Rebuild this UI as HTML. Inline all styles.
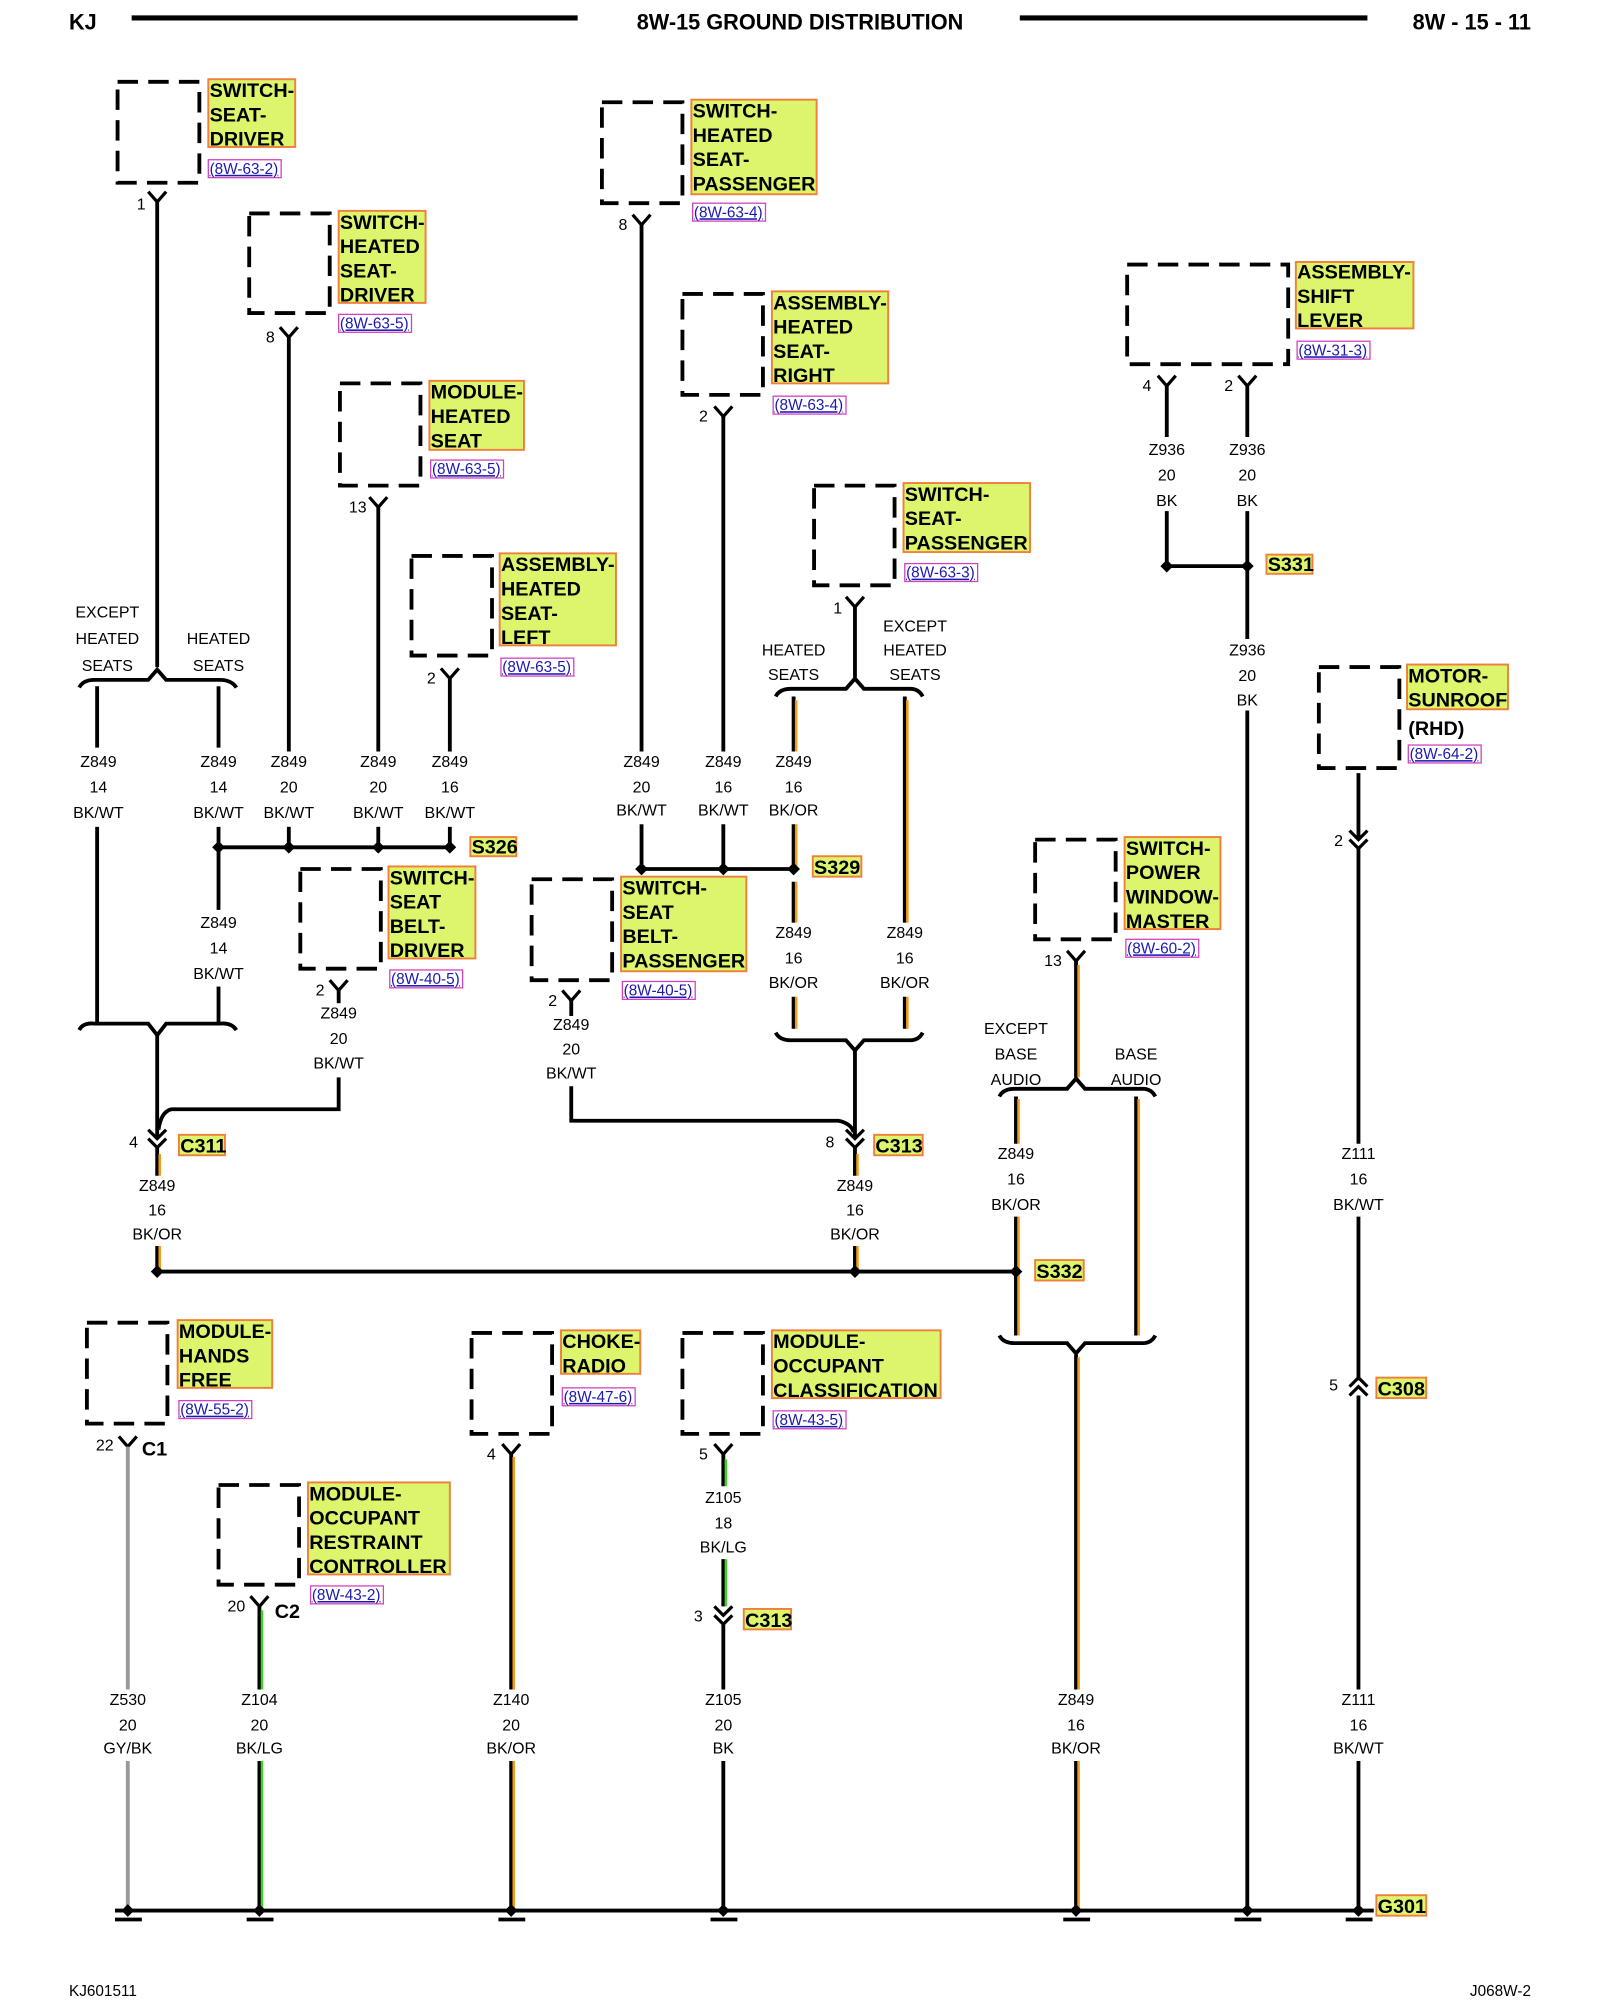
<!DOCTYPE html>
<html><head><meta charset="utf-8"><style>
html,body{margin:0;padding:0;background:#fff}
svg{display:block}
.w{stroke:#000;stroke-width:3;fill:none}
.o{stroke:#f39a1e;stroke-width:2;fill:none}
.g{stroke:#3fd02a;stroke-width:2;fill:none}
.gy{stroke:#999;stroke-width:3;fill:none}
.bx{stroke:#000;stroke-width:3;fill:none;stroke-dasharray:16 8}
.lb{fill:#dcf56c;stroke:#ef7f3a;stroke-width:1.5}
.lt{font:bold 15.5px "Liberation Sans",sans-serif;fill:#000}
.rf{font:12px "Liberation Sans",sans-serif;fill:#1a1ab0;text-decoration:underline}
.rb{fill:none;stroke:#d040c0;stroke-width:1}
.t{font:12.5px "Liberation Sans",sans-serif;fill:#000;text-anchor:middle}
.p{font:12.5px "Liberation Sans",sans-serif;fill:#000}
.hd{font:bold 17px "Liberation Sans",sans-serif;fill:#000}
.d{fill:#000}
</style></head><body>
<svg width="1600" height="2000" viewBox="0 0 1252 1565" xmlns="http://www.w3.org/2000/svg">
<text x="54" y="23" class="hd">KJ</text>
<line x1="103" y1="14" x2="452" y2="14" stroke="#000" stroke-width="4"/>
<text x="626" y="23" class="hd" text-anchor="middle">8W-15 GROUND DISTRIBUTION</text>
<line x1="798" y1="14" x2="1070" y2="14" stroke="#000" stroke-width="4"/>
<text x="1198" y="23" class="hd" text-anchor="end">8W - 15 - 11</text>
<text x="54" y="1562" class="p" style="font-size:12px">KJ601511</text>
<text x="1198" y="1562" class="p" text-anchor="end" style="font-size:12px">J068W-2</text>

<rect x="92" y="64" width="64" height="79" class="bx"/>
<rect x="195" y="167" width="63" height="78" class="bx"/>
<rect x="266" y="300" width="63" height="80" class="bx"/>
<rect x="322" y="435" width="63" height="78" class="bx"/>
<rect x="471" y="80" width="63" height="79" class="bx"/>
<rect x="534" y="230" width="63" height="79" class="bx"/>
<rect x="637" y="380" width="63" height="78" class="bx"/>
<rect x="882" y="207" width="126" height="78" class="bx"/>
<rect x="1032" y="522" width="63" height="79" class="bx"/>
<rect x="235" y="680" width="63" height="78" class="bx"/>
<rect x="416" y="688" width="63" height="79" class="bx"/>
<rect x="810" y="657" width="63" height="78" class="bx"/>
<rect x="68" y="1035" width="63" height="79" class="bx"/>
<rect x="171" y="1162" width="63" height="78" class="bx"/>
<rect x="369" y="1043" width="63" height="79" class="bx"/>
<rect x="534" y="1043" width="63" height="79" class="bx"/>

<g>
<rect x="163" y="62" width="68" height="53" class="lb"/><text class="lt"><tspan x="164" y="76">SWITCH-</tspan><tspan x="164" y="95">SEAT-</tspan><tspan x="164" y="114">DRIVER</tspan></text>
<rect x="163" y="125" width="57" height="14" class="rb"/><text x="164" y="136" class="rf">(8W-63-2)</text>

<rect x="265" y="165" width="68" height="72" class="lb"/><text class="lt"><tspan x="266" y="179">SWITCH-</tspan><tspan x="266" y="198">HEATED</tspan><tspan x="266" y="217">SEAT-</tspan><tspan x="266" y="236">DRIVER</tspan></text>
<rect x="265" y="246" width="57" height="14" class="rb"/><text x="266" y="257" class="rf">(8W-63-5)</text>

<rect x="336" y="298" width="74" height="54" class="lb"/><text class="lt"><tspan x="337" y="312">MODULE-</tspan><tspan x="337" y="331">HEATED</tspan><tspan x="337" y="350">SEAT</tspan></text>
<rect x="337" y="360" width="57" height="14" class="rb"/><text x="338" y="371" class="rf">(8W-63-5)</text>

<rect x="391" y="433" width="91" height="72" class="lb"/><text class="lt"><tspan x="392" y="447">ASSEMBLY-</tspan><tspan x="392" y="466">HEATED</tspan><tspan x="392" y="485">SEAT-</tspan><tspan x="392" y="504">LEFT</tspan></text>
<rect x="392" y="515" width="57" height="14" class="rb"/><text x="393" y="526" class="rf">(8W-63-5)</text>

<rect x="541" y="78" width="98" height="74" class="lb"/><text class="lt"><tspan x="542" y="92">SWITCH-</tspan><tspan x="542" y="111">HEATED</tspan><tspan x="542" y="130">SEAT-</tspan><tspan x="542" y="149">PASSENGER</tspan></text>
<rect x="542" y="159" width="57" height="14" class="rb"/><text x="543" y="170" class="rf">(8W-63-4)</text>

<rect x="604" y="228" width="91" height="72" class="lb"/><text class="lt"><tspan x="605" y="242">ASSEMBLY-</tspan><tspan x="605" y="261">HEATED</tspan><tspan x="605" y="280">SEAT-</tspan><tspan x="605" y="299">RIGHT</tspan></text>
<rect x="605" y="310" width="57" height="14" class="rb"/><text x="606" y="321" class="rf">(8W-63-4)</text>

<rect x="707" y="378" width="99" height="54" class="lb"/><text class="lt"><tspan x="708" y="392">SWITCH-</tspan><tspan x="708" y="411">SEAT-</tspan><tspan x="708" y="430">PASSENGER</tspan></text>
<rect x="708" y="441" width="57" height="14" class="rb"/><text x="709" y="452" class="rf">(8W-63-3)</text>

<rect x="1014" y="205" width="92" height="52" class="lb"/><text class="lt"><tspan x="1015" y="218">ASSEMBLY-</tspan><tspan x="1015" y="237">SHIFT</tspan><tspan x="1015" y="256">LEVER</tspan></text>
<rect x="1015" y="267" width="57" height="14" class="rb"/><text x="1016" y="278" class="rf">(8W-31-3)</text>

<rect x="1101" y="520" width="79" height="35" class="lb"/><text class="lt"><tspan x="1102" y="534">MOTOR-</tspan><tspan x="1102" y="553">SUNROOF</tspan><tspan x="1102" y="575">(RHD)</tspan></text>
<rect x="1102" y="583" width="57" height="14" class="rb"/><text x="1103" y="594" class="rf">(8W-64-2)</text>

<rect x="304" y="678" width="68" height="72" class="lb"/><text class="lt"><tspan x="305" y="692">SWITCH-</tspan><tspan x="305" y="711">SEAT</tspan><tspan x="305" y="730">BELT-</tspan><tspan x="305" y="749">DRIVER</tspan></text>
<rect x="305" y="759" width="57" height="14" class="rb"/><text x="306" y="770" class="rf">(8W-40-5)</text>

<rect x="486" y="686" width="98" height="74" class="lb"/><text class="lt"><tspan x="487" y="700">SWITCH-</tspan><tspan x="487" y="719">SEAT</tspan><tspan x="487" y="738">BELT-</tspan><tspan x="487" y="757">PASSENGER</tspan></text>
<rect x="487" y="768" width="57" height="14" class="rb"/><text x="488" y="779" class="rf">(8W-40-5)</text>

<rect x="880" y="655" width="75" height="72" class="lb"/><text class="lt"><tspan x="881" y="669">SWITCH-</tspan><tspan x="881" y="688">POWER</tspan><tspan x="881" y="707">WINDOW-</tspan><tspan x="881" y="726">MASTER</tspan></text>
<rect x="881" y="735" width="57" height="14" class="rb"/><text x="882" y="746" class="rf">(8W-60-2)</text>

<rect x="139" y="1033" width="74" height="53" class="lb"/><text class="lt"><tspan x="140" y="1047">MODULE-</tspan><tspan x="140" y="1066">HANDS</tspan><tspan x="140" y="1085">FREE</tspan></text>
<rect x="140" y="1096" width="57" height="14" class="rb"/><text x="141" y="1107" class="rf">(8W-55-2)</text>

<rect x="241" y="1160" width="111" height="72" class="lb"/><text class="lt"><tspan x="242" y="1174">MODULE-</tspan><tspan x="242" y="1193">OCCUPANT</tspan><tspan x="242" y="1212">RESTRAINT</tspan><tspan x="242" y="1231">CONTROLLER</tspan></text>
<rect x="243" y="1241" width="57" height="14" class="rb"/><text x="244" y="1252" class="rf">(8W-43-2)</text>

<rect x="439" y="1041" width="62" height="34" class="lb"/><text class="lt"><tspan x="440" y="1055">CHOKE-</tspan><tspan x="440" y="1074">RADIO</tspan></text>
<rect x="440" y="1086" width="57" height="14" class="rb"/><text x="441" y="1097" class="rf">(8W-47-6)</text>

<rect x="604" y="1041" width="132" height="53" class="lb"/><text class="lt"><tspan x="605" y="1055">MODULE-</tspan><tspan x="605" y="1074">OCCUPANT</tspan><tspan x="605" y="1093">CLASSIFICATION</tspan></text>
<rect x="605" y="1104" width="57" height="14" class="rb"/><text x="606" y="1115" class="rf">(8W-43-5)</text>

<rect x="368" y="655" width="36" height="15" class="lb"/><text x="369" y="668" class="lt">S326</text>
<rect x="636" y="670" width="38" height="16" class="lb"/><text x="637" y="684" class="lt">S329</text>
<rect x="991" y="434" width="36" height="15" class="lb"/><text x="992" y="447" class="lt">S331</text>
<rect x="810" y="986" width="38" height="16" class="lb"/><text x="811" y="1000" class="lt">S332</text>
<rect x="140" y="888" width="36" height="16" class="lb"/><text x="141" y="902" class="lt">C311</text>
<rect x="684" y="888" width="38" height="16" class="lb"/><text x="685" y="902" class="lt">C313</text>
<rect x="1077" y="1078" width="39" height="16" class="lb"/><text x="1078" y="1092" class="lt">C308</text>
<rect x="582" y="1259" width="37" height="16" class="lb"/><text x="583" y="1273" class="lt">C313</text>
<rect x="1077" y="1483" width="39" height="16" class="lb"/><text x="1078" y="1497" class="lt">G301</text>
<text x="111" y="1139" class="lt">C1</text>
<text x="215" y="1266" class="lt">C2</text>
</g>

<g class="p">
<text x="107" y="164">1</text><text x="208" y="268">8</text><text x="273" y="401">13</text><text x="334" y="535">2</text>
<text x="484" y="180">8</text><text x="547" y="330">2</text><text x="652" y="480">1</text>
<text x="894" y="306">4</text><text x="958" y="306">2</text><text x="1044" y="662">2</text>
<text x="247" y="779">2</text><text x="429" y="787">2</text><text x="817" y="756">13</text>
<text x="101" y="898">4</text><text x="646" y="898">8</text><text x="1040" y="1088">5</text>
<text x="75" y="1135">22</text><text x="178" y="1261">20</text><text x="381" y="1142">4</text><text x="547" y="1142">5</text><text x="543" y="1269">3</text>
</g>

<g class="w" style="stroke-width:2.5">
<path d="M116 150 L123 158 L130 150"/><path d="M219 256 L226 264 L233 256"/><path d="M289 389 L296 397 L303 389"/><path d="M345 523 L352 531 L359 523"/>
<path d="M495 168 L502 176 L509 168"/><path d="M559 318 L566 326 L573 318"/><path d="M662 467 L669 475 L676 467"/>
<path d="M906 294 L913 302 L920 294"/><path d="M969 294 L976 302 L983 294"/>
<path d="M258 767 L265 775 L272 767"/><path d="M440 775 L447 783 L454 775"/><path d="M835 744 L842 752 L849 744"/>
<path d="M93 1124 L100 1132 L107 1124"/><path d="M196 1249 L203 1257 L210 1249"/><path d="M393 1130 L400 1138 L407 1130"/><path d="M559 1130 L566 1138 L573 1130"/>
<path d="M116 884 L123 891 L130 884 M116 891 L123 898 L130 891"/>
<path d="M662 884 L669 891 L676 884 M662 891 L669 898 L676 891"/>
<path d="M1056 650 L1063 657 L1070 650 M1056 657 L1063 664 L1070 657"/>
<path d="M559 1257 L566 1264 L573 1257 M559 1264 L566 1271 L573 1264"/>
<path d="M1056 1085 L1063 1078 L1070 1085 M1056 1092 L1063 1085 L1070 1092"/>
</g>

<g class="w">
<path d="M123 158 V522"/>
<path d="M226 264 V588"/><path d="M226 647 V663"/>
<path d="M296 397 V588"/><path d="M296 647 V663"/>
<path d="M352 531 V588"/><path d="M352 647 V663"/>
<path d="M76 537 V585"/><path d="M76 647 V800"/>
<path d="M171 537 V585"/><path d="M171 647 V712"/><path d="M171 772 V800"/>
<path d="M171 663 H352"/>
<path d="M62 806 Q65 800 74 801 H116 L123 810 L130 801 H172 Q181 800 185 806" />
<path d="M62 538 Q65 532 74 532 H116 L123 524 L130 532 H172 Q181 532 185 538"/>
<path d="M123 810 V890"/>
<path d="M265 775 V785"/><path d="M265 843 V868 H134 Q126 870 124 884"/>
<path d="M502 176 V588"/><path d="M502 645 V680"/>
<path d="M566 326 V588"/><path d="M566 645 V680"/>
<path d="M502 680 H621"/>
<path d="M669 475 V530"/>
<path d="M607 545 Q610 539 619 539 H662 L669 531 L676 539 H712 Q719 539 722 545"/>
<path d="M607 808 Q610 814 619 814 H662 L669 822 L676 814 H712 Q719 814 722 808"/>
<path d="M669 822 V890"/>
<path d="M447 783 V795"/><path d="M447 850 V877 H656 Q666 879 668 886"/>
<path d="M913 302 V342"/><path d="M913 400 V443"/>
<path d="M976 302 V342"/><path d="M976 400 V500"/><path d="M976 556 V1495"/>
<path d="M913 443 H976"/>
<path d="M1063 605 V657"/><path d="M1063 664 V895"/><path d="M1063 952 V1080"/><path d="M1063 1092 V1322"/><path d="M1063 1378 V1495"/>
<path d="M123 995 H795"/>
<path d="M782 858 Q785 852 794 852 H835 L842 844 L849 852 H894 Q901 852 904 858"/>
<path d="M782 1045 Q785 1051 794 1051 H835 L842 1059 L849 1051 H894 Q901 1051 904 1045"/>
<path d="M566 1271 V1322"/><path d="M566 1378 V1495"/>
<path d="M90 1495 H1075"/>
</g>

<g>
<path class="w" d="M621 545 V588 M621 645 V680 M621 690 V722 M621 780 V805 M708 545 V722 M708 780 V805 M669 898 V920 M669 975 V995 M123 898 V920 M123 975 V995 M842 752 V843 M795 858 V895 M795 952 V1045 M889 858 V1045 M842 1060 V1322 M842 1378 V1495 M400 1138 V1322 M400 1378 V1495 M203 1257 V1322 M203 1378 V1495 M566 1138 V1163 M566 1220 V1257"/>
<path class="o" d="M623 548 V588 M623 645 V678 M623 690 V722 M623 780 V805 M710 548 V722 M710 780 V805 M671 903 V920 M671 975 V993 M125 903 V920 M125 975 V993 M844 755 V843 M797 860 V895 M797 952 V1045 M891 860 V1045 M844 1062 V1322 M844 1378 V1493 M402 1140 V1322 M402 1378 V1493"/>
<path class="g" d="M205 1260 V1322 M205 1378 V1493 M568 1142 V1163 M568 1220 V1257"/>
<path class="gy" d="M100 1132 V1322 M100 1378 V1495"/>
</g>

<g class="d">
<path d="M171 658 l5 5 l-5 5 l-5 -5z M226 658 l5 5 l-5 5 l-5 -5z M296 658 l5 5 l-5 5 l-5 -5z M352 658 l5 5 l-5 5 l-5 -5z"/>
<path d="M502 675 l5 5 l-5 5 l-5 -5z M566 675 l5 5 l-5 5 l-5 -5z M621 675 l5 5 l-5 5 l-5 -5z"/>
<path d="M913 438 l5 5 l-5 5 l-5 -5z M976 438 l5 5 l-5 5 l-5 -5z"/>
<path d="M123 990 l5 5 l-5 5 l-5 -5z M669 990 l5 5 l-5 5 l-5 -5z M795 990 l5 5 l-5 5 l-5 -5z"/>
<path d="M100 1490 l5 5 l-5 5 l-5 -5z M203 1490 l5 5 l-5 5 l-5 -5z M400 1490 l5 5 l-5 5 l-5 -5z M566 1490 l5 5 l-5 5 l-5 -5z M842 1490 l5 5 l-5 5 l-5 -5z M976 1490 l5 5 l-5 5 l-5 -5z M1063 1490 l5 5 l-5 5 l-5 -5z"/>
</g>
<g stroke="#000" stroke-width="3">
<line x1="90" y1="1502" x2="111" y2="1502"/><line x1="193" y1="1502" x2="214" y2="1502"/><line x1="390" y1="1502" x2="411" y2="1502"/><line x1="556" y1="1502" x2="577" y2="1502"/><line x1="832" y1="1502" x2="853" y2="1502"/><line x1="966" y1="1502" x2="987" y2="1502"/><line x1="1053" y1="1502" x2="1074" y2="1502"/>
</g>

<g class="t">
<text x="84" y="483">EXCEPT</text><text x="84" y="504">HEATED</text><text x="84" y="525">SEATS</text>
<text x="171" y="504">HEATED</text><text x="171" y="525">SEATS</text>
<text x="621" y="513">HEATED</text><text x="621" y="532">SEATS</text>
<text x="716" y="494">EXCEPT</text><text x="716" y="513">HEATED</text><text x="716" y="532">SEATS</text>
<text x="795" y="809">EXCEPT</text><text x="795" y="829">BASE</text><text x="795" y="849">AUDIO</text>
<text x="889" y="829">BASE</text><text x="889" y="849">AUDIO</text>
</g>

<g class="t">
<text x="77" y="600">Z849</text><text x="77" y="620">14</text><text x="77" y="640">BK/WT</text>
<text x="171" y="600">Z849</text><text x="171" y="620">14</text><text x="171" y="640">BK/WT</text>
<text x="226" y="600">Z849</text><text x="226" y="620">20</text><text x="226" y="640">BK/WT</text>
<text x="296" y="600">Z849</text><text x="296" y="620">20</text><text x="296" y="640">BK/WT</text>
<text x="352" y="600">Z849</text><text x="352" y="620">16</text><text x="352" y="640">BK/WT</text>
<text x="171" y="726">Z849</text><text x="171" y="746">14</text><text x="171" y="766">BK/WT</text>
<text x="265" y="797">Z849</text><text x="265" y="817">20</text><text x="265" y="836">BK/WT</text>
<text x="447" y="806">Z849</text><text x="447" y="825">20</text><text x="447" y="844">BK/WT</text>
<text x="502" y="600">Z849</text><text x="502" y="620">20</text><text x="502" y="638">BK/WT</text>
<text x="566" y="600">Z849</text><text x="566" y="620">16</text><text x="566" y="638">BK/WT</text>
<text x="621" y="600">Z849</text><text x="621" y="620">16</text><text x="621" y="638">BK/OR</text>
<text x="621" y="734">Z849</text><text x="621" y="754">16</text><text x="621" y="773">BK/OR</text>
<text x="708" y="734">Z849</text><text x="708" y="754">16</text><text x="708" y="773">BK/OR</text>
<text x="123" y="932">Z849</text><text x="123" y="951">16</text><text x="123" y="970">BK/OR</text>
<text x="669" y="932">Z849</text><text x="669" y="951">16</text><text x="669" y="970">BK/OR</text>
<text x="795" y="907">Z849</text><text x="795" y="927">16</text><text x="795" y="947">BK/OR</text>
<text x="913" y="356">Z936</text><text x="913" y="376">20</text><text x="913" y="396">BK</text>
<text x="976" y="356">Z936</text><text x="976" y="376">20</text><text x="976" y="396">BK</text>
<text x="976" y="513">Z936</text><text x="976" y="533">20</text><text x="976" y="552">BK</text>
<text x="1063" y="907">Z111</text><text x="1063" y="927">16</text><text x="1063" y="947">BK/WT</text>
<text x="566" y="1176">Z105</text><text x="566" y="1196">18</text><text x="566" y="1215">BK/LG</text>
<text x="100" y="1334">Z530</text><text x="100" y="1354">20</text><text x="100" y="1372">GY/BK</text>
<text x="203" y="1334">Z104</text><text x="203" y="1354">20</text><text x="203" y="1372">BK/LG</text>
<text x="400" y="1334">Z140</text><text x="400" y="1354">20</text><text x="400" y="1372">BK/OR</text>
<text x="566" y="1334">Z105</text><text x="566" y="1354">20</text><text x="566" y="1372">BK</text>
<text x="842" y="1334">Z849</text><text x="842" y="1354">16</text><text x="842" y="1372">BK/OR</text>
<text x="1063" y="1334">Z111</text><text x="1063" y="1354">16</text><text x="1063" y="1372">BK/WT</text>
</g>
</svg>
</body></html>
